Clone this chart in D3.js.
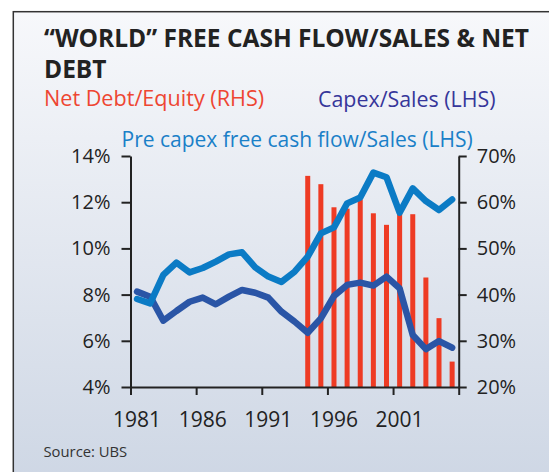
<!DOCTYPE html>
<html><head><meta charset="utf-8">
<script src="https://cdn.jsdelivr.net/npm/d3@7"></script>
<style>
html,body{margin:0;padding:0;background:#fff;}
svg{display:block;}
text{font-family:"Open Sans","Noto Sans",sans-serif;}
</style></head>
<body>
<svg id="c" width="549" height="472"></svg>
<script>
// ---- data ----
const years = d3.range(1981, 2006);
const preCapexFCF = [7.81, 7.62, 8.85, 9.38, 8.96, 9.15, 9.43, 9.74, 9.83, 9.18, 8.78, 8.55, 8.99, 9.64, 10.65, 10.91, 11.95, 12.2, 13.28, 13.08, 11.55, 12.6, 12.05, 11.66, 12.12];
const capexSales = [8.13, 7.91, 6.87, 7.29, 7.69, 7.87, 7.58, 7.91, 8.2, 8.08, 7.87, 7.26, 6.83, 6.35, 6.97, 7.94, 8.42, 8.52, 8.39, 8.78, 8.27, 6.25, 5.64, 5.99, 5.7];
const barYears = d3.range(1994, 2006);
const netDebtEquity = [65.7, 63.9, 58.9, 58.6, 60.6, 57.6, 55.1, 57.5, 57.4, 43.7, 34.9, 25.5];
const leftTicks = [4, 6, 8, 10, 12, 14];
const rightTicks = [20, 30, 40, 50, 60, 70];
const xTicks = [1981, 1986, 1991, 1996, 2001, 2006];
const xLabels = ["1981", "1986", "1991", "1996", "2001"];

const svg = d3.select("#c");
const defs = svg.append("defs");
const grad = defs.append("linearGradient").attr("id","bg").attr("x1",0).attr("y1",0).attr("x2",0).attr("y2",1);
grad.append("stop").attr("offset","0%").attr("stop-color","#f7f8fb");
grad.append("stop").attr("offset","100%").attr("stop-color","#cdd6e4");

svg.append("rect").attr("x",13.3).attr("y",11.7).attr("width",560).attr("height",480)
  .attr("fill","url(#bg)").attr("stroke","#333").attr("stroke-width",1.5);

// scales
const x = d3.scaleLinear().domain([1981, 2006]).range([130.5, 458.7]);
const yL = d3.scaleLinear().domain([4, 14]).range([387, 156]);
const yR = d3.scaleLinear().domain([20, 70]).range([387, 156]);

// bars
svg.append("g").selectAll("rect").data(barYears.map((yr,i)=>({yr, v: netDebtEquity[i]})))
  .join("rect")
  .attr("x", d => x(d.yr + 0.5) - 2.5)
  .attr("width", 5)
  .attr("y", d => yR(d.v))
  .attr("height", d => yR(20) - yR(d.v))
  .attr("fill", "#ee3b24");

// lines
const lineL = d3.line().x(d => x(d[0] + 0.5)).y(d => yL(d[1]));
svg.append("path").datum(years.map((yr,i)=>[yr, capexSales[i]]))
  .attr("d", lineL).attr("fill","none").attr("stroke","#2a55a6").attr("stroke-width",6.5)
  .attr("stroke-linejoin","round").attr("stroke-linecap","round");
svg.append("path").datum(years.map((yr,i)=>[yr, preCapexFCF[i]]))
  .attr("d", lineL).attr("fill","none").attr("stroke","#0b7bc5").attr("stroke-width",6.5)
  .attr("stroke-linejoin","round").attr("stroke-linecap","round");

// axes
function styleAxis(g){
  g.selectAll("path.domain").attr("stroke","#222").attr("stroke-width",2);
  g.selectAll(".tick line").attr("stroke","#222").attr("stroke-width",2);
  g.selectAll(".tick text").attr("fill","#222").style("font-family",'"Open Sans","Noto Sans",sans-serif');
}
const axL = svg.append("g").attr("transform","translate(130.5,0)")
  .call(d3.axisLeft(yL).tickValues(leftTicks).tickSize(9).tickSizeOuter(0).tickPadding(11).tickFormat(d => d + "%"));
styleAxis(axL);
axL.selectAll(".tick text").attr("font-size",20);

const axR = svg.append("g").attr("transform","translate(458.7,0)")
  .call(d3.axisRight(yR).tickValues(rightTicks).tickSize(8).tickSizeOuter(0).tickPadding(10).tickFormat(d => d + "%"));
styleAxis(axR);
axR.selectAll(".tick text").attr("font-size",20);

const axB = svg.append("g").attr("transform","translate(0,387)")
  .call(d3.axisBottom(x).tickValues(xTicks).tickSize(8).tickSizeOuter(0).tickFormat(""));
styleAxis(axB);

svg.append("g").selectAll("text").data(xLabels).join("text")
  .attr("x", d => x(+d + 0.5)).attr("y", 427)
  .attr("text-anchor","middle").attr("font-size",21).attr("fill","#222").text(d => d);

// titles
svg.append("text").attr("x",44).attr("y",46.7).attr("font-size",24.5).attr("font-weight",700).attr("fill","#222")
  .text("\u201CWORLD\u201D FREE CASH FLOW/SALES & NET");
svg.append("text").attr("x",44).attr("y",78).attr("font-size",24.5).attr("font-weight",700).attr("fill","#222")
  .text("DEBT");
svg.append("text").attr("x",44).attr("y",105.5).attr("font-size",21.6).attr("fill","#ee4632")
  .text("Net Debt/Equity (RHS)");
svg.append("text").attr("x",318).attr("y",107).attr("font-size",21.4).attr("fill","#36369a")
  .text("Capex/Sales (LHS)");
svg.append("text").attr("x",121.5).attr("y",147).attr("font-size",21).attr("fill","#1a80c8")
  .text("Pre capex free cash flow/Sales (LHS)");
svg.append("text").attr("x",43.5).attr("y",456.7).attr("font-size",14.8).attr("fill","#333")
  .text("Source:  UBS");
</script>
</body></html>
